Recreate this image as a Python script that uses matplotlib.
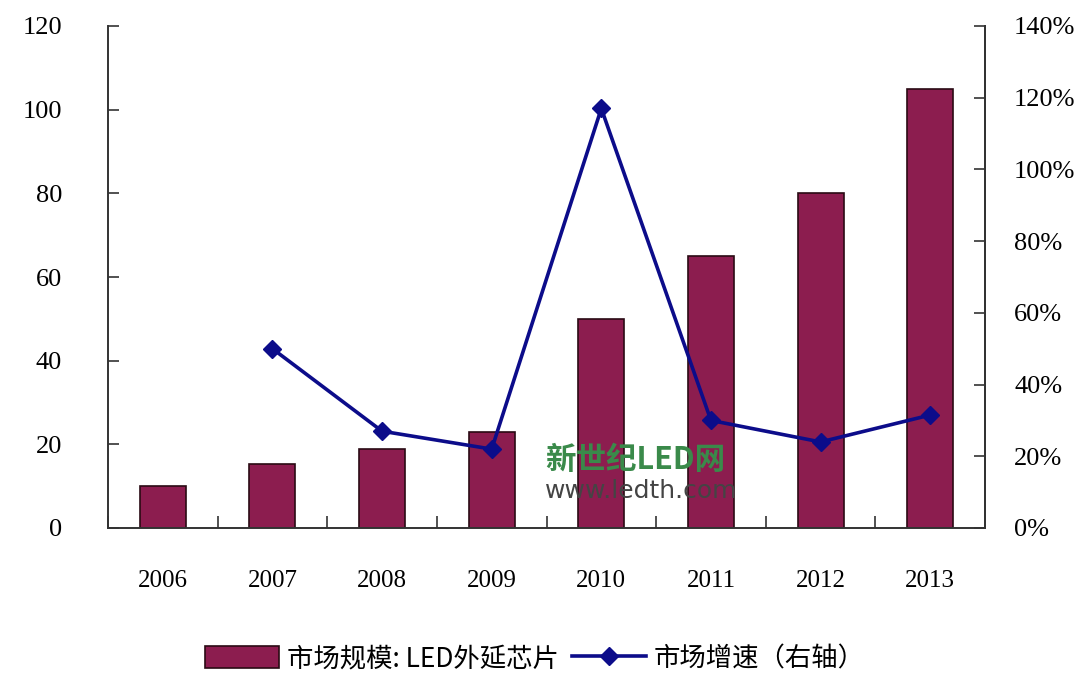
import matplotlib
matplotlib.use('Agg')
import matplotlib.pyplot as plt
import numpy as np
from matplotlib.ticker import FuncFormatter, FixedLocator

plt.rcParams['font.family'] = ['Liberation Serif', 'Noto Sans CJK SC', 'DejaVu Sans']

# data
years = ['2006', '2007', '2008', '2009', '2010', '2011', '2012', '2013']
market_size = [10, 15.3, 18.8, 23, 50, 65, 80, 105]
growth_years = ['2007', '2008', '2009', '2010', '2011', '2012', '2013']
growth_pct = [50, 27, 22, 117, 30, 24, 31.5]

left_ticks = [0, 20, 40, 60, 80, 100, 120]
right_ticks = [0, 20, 40, 60, 80, 100, 120, 140]

bar_label = '市场规模: LED外延芯片'
line_label = '市场增速（右轴）'

bar_color = '#8c1d4f'
line_color = '#0c0c8a'

fig = plt.figure(figsize=(10.91, 6.73), dpi=100)
ax = fig.add_axes([108 / 1091, 1 - 528 / 673, 877 / 1091, 502 / 673])

x = np.arange(len(years))
gx = np.array([years.index(y) for y in growth_years])

bars = ax.bar(x, market_size, width=0.42, color=bar_color, edgecolor='#2a0a14',
              linewidth=1.2, zorder=2, label=bar_label)
ax.set_xlim(-0.5, len(years) - 0.5)
ax.set_ylim(0, 120)
ax.set_yticks(left_ticks)
ax.set_xticks(x)
ax.set_xticklabels(years)
ax.xaxis.set_minor_locator(FixedLocator(np.arange(-0.5, len(years), 1.0)))
ax.tick_params(axis='x', which='major', length=0, pad=30, labelsize=18)
ax.tick_params(axis='x', which='minor', direction='in', length=9, width=1.2, color='#333333')
ax.tick_params(axis='y', direction='in', length=8, width=1.2, color='#333333',
               labelsize=19, pad=33)
ax.spines['top'].set_visible(False)
for s in ['left', 'bottom', 'right']:
    ax.spines[s].set_linewidth(1.4)
    ax.spines[s].set_color('#333333')

ax2 = ax.twinx()
line, = ax2.plot(gx, growth_pct, color=line_color, linewidth=2.6, marker='D',
                 markersize=9, markerfacecolor=line_color, markeredgecolor=line_color,
                 zorder=3, label=line_label)
ax2.set_ylim(0, 140)
ax2.set_yticks(right_ticks)
ax2.yaxis.set_major_formatter(FuncFormatter(lambda v, p: '%d%%' % v))
ax2.tick_params(axis='y', direction='in', length=8, width=1.2, color='#333333',
                labelsize=19, pad=21)
ax2.spines['top'].set_visible(False)
ax2.spines['right'].set_linewidth(1.4)
ax2.spines['right'].set_color('#333333')
ax2.spines['left'].set_visible(False)
ax2.spines['bottom'].set_visible(False)

# watermark
fig.text(545 / 1091, 1 - 460 / 673, '新世纪LED网', color='#3a8a4a', fontsize=22,
         fontweight='bold', family=['Noto Sans CJK SC', 'DejaVu Sans'], va='center', zorder=5)
fig.text(545 / 1091, 1 - 491 / 673, 'www.ledth.com', color='#444444', fontsize=18,
         family=['DejaVu Sans'], va='center', zorder=5)

fig.legend([bars, line], [bar_label, line_label], loc='center',
           bbox_to_anchor=(535 / 1091, 1 - 659 / 673), ncol=2, frameon=False,
           prop={'family': ['Noto Sans CJK SC', 'DejaVu Sans'], 'size': 19},
           handlelength=2.8, handleheight=0.9, handletextpad=0.3, columnspacing=0.5)

fig.savefig('out.png', dpi=100)
